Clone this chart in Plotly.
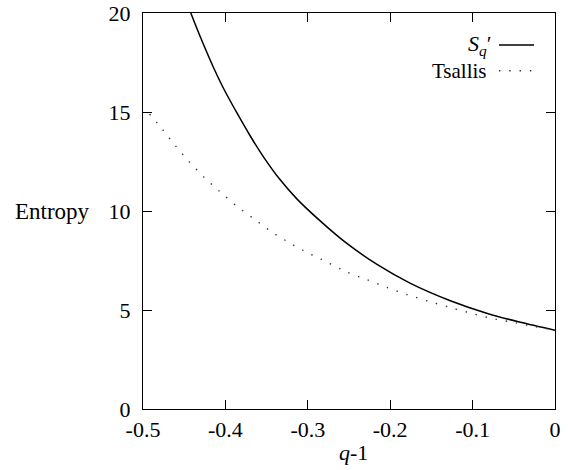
import plotly.graph_objects as go

# S_q' (solid)
q_sq = [-0.442, -0.431, -0.415, -0.403, -0.386, -0.370, -0.354, -0.334, -0.313,
        -0.285, -0.255, -0.216, -0.176, -0.127, -0.083, -0.042, 0.0]
s_sq = [20.0, 18.85, 17.3, 16.25, 14.95, 13.8, 12.75, 11.6, 10.6,
        9.5, 8.44, 7.30, 6.36, 5.47, 4.84, 4.38, 3.98]

# Tsallis (dotted)
q_ts = [-0.492, -0.477, -0.461, -0.444, -0.426, -0.407, -0.387, -0.366, -0.345,
        -0.323, -0.300, -0.277, -0.253, -0.228, -0.204, -0.179, -0.154, -0.129,
        -0.104, -0.079, -0.054, -0.027, 0.0]
s_ts = [14.9, 14.15, 13.31, 12.49, 11.71, 10.99, 10.27, 9.62, 8.98,
        8.41, 7.89, 7.42, 6.93, 6.53, 6.14, 5.77, 5.45, 5.15,
        4.86, 4.60, 4.40, 4.18, 3.98]

x_ticks = [-0.5, -0.4, -0.3, -0.2, -0.1, 0]
x_ticktext = ["-0.5", "-0.4", "-0.3", "-0.2", "-0.1", "0"]
y_ticks = [0, 5, 10, 15, 20]
y_ticktext = ["0", "5", "10", "15", "20"]

FONT = "Liberation Serif"
FS = 22

fig = go.Figure()
fig.add_trace(go.Scatter(x=q_sq, y=s_sq, mode="lines",
                         line=dict(color="black", width=1.5, shape="spline", smoothing=0.8),
                         showlegend=False))
fig.add_trace(go.Scatter(x=q_ts, y=s_ts, mode="lines",
                         line=dict(color="#333333", width=1.4, dash="1.4px,8.9px", shape="spline", smoothing=0.8),
                         showlegend=False))

axis_common = dict(showline=True, linecolor="black", linewidth=1.3, mirror="ticks",
                   ticks="inside", ticklen=9, tickwidth=1.2, tickcolor="black",
                   showgrid=False, zeroline=False, automargin=False,
                   tickfont=dict(family=FONT, size=FS, color="black"))

fig.update_xaxes(range=[-0.5, 0], tickvals=x_ticks, ticktext=x_ticktext, **axis_common)
fig.update_yaxes(range=[0, 20], tickvals=y_ticks, ticktext=y_ticktext, ticklabelstandoff=7, **axis_common)

# legend (text right-aligned, samples on right)
fig.add_annotation(xref="paper", yref="paper", x=0.852, y=0.919, xanchor="right", yanchor="middle",
                   text="<i>S<sub>q</sub></i>\u2032", showarrow=False,
                   font=dict(family=FONT, size=FS, color="black"))
fig.add_annotation(xref="paper", yref="paper", x=0.839, y=0.854, xanchor="right", yanchor="middle",
                   text="Tsallis", showarrow=False,
                   font=dict(family=FONT, size=FS - 1, color="black"))
fig.add_shape(type="line", xref="paper", yref="paper", x0=0.864, x1=0.949, y0=0.919, y1=0.919,
              line=dict(color="black", width=1.5))
fig.add_shape(type="line", xref="paper", yref="paper", x0=0.864, x1=0.949, y0=0.854, y1=0.854,
              line=dict(color="#333333", width=1.4, dash="1.4px,8.9px"))

# axis titles
fig.add_annotation(xref="paper", yref="paper", x=0.51, y=-0.11, xanchor="center", yanchor="middle",
                   text="<i>q</i>-1", showarrow=False, font=dict(family=FONT, size=FS, color="black"))
fig.add_annotation(xref="paper", yref="paper", x=-0.315, y=0.5, xanchor="left", yanchor="middle",
                   text="Entropy", showarrow=False, font=dict(family=FONT, size=FS + 1, color="black"))

fig.update_layout(width=568, height=470, margin=dict(l=143, r=13, t=13, b=61),
                  plot_bgcolor="white", paper_bgcolor="white", showlegend=False)

fig.write_html("out.html")
